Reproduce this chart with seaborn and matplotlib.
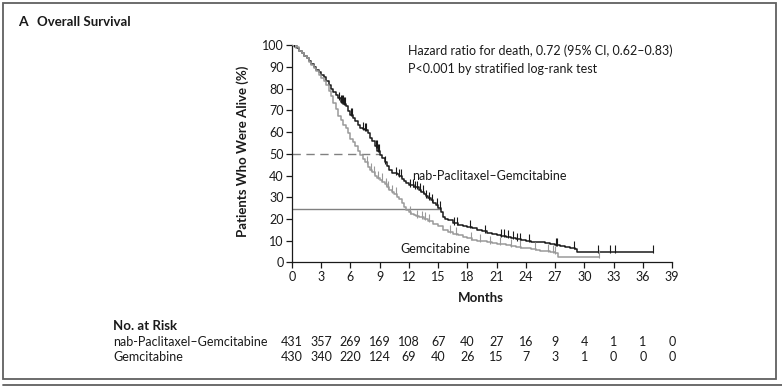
import numpy as np
import pandas as pd
import matplotlib
matplotlib.use("Agg")
import matplotlib.pyplot as plt
from matplotlib.patches import Rectangle
from matplotlib.lines import Line2D
import seaborn as sns

# ---------------- data ----------------
arms = ["nab-Paclitaxel\u2013Gemcitabine", "Gemcitabine"]

nab_time = [0, 0.25, 0.5, 0.75, 1.0, 1.25, 1.5, 1.75, 2.0, 2.25, 2.5, 2.75, 3.0, 3.25,
            3.5, 3.75, 4.0, 4.25, 4.5, 4.75, 5.0, 5.25, 5.5, 5.75, 6.0, 6.25, 6.5,
            6.75, 7.0, 7.25, 7.5, 7.75, 8.0, 8.25, 8.5, 8.75, 9.0, 9.25, 9.5, 9.75,
            10.0, 10.25, 10.75, 11.0, 11.25, 11.5, 11.75, 12.0, 12.5, 13.0, 13.25,
            13.5, 13.75, 14.0, 14.25, 14.5, 14.75, 15.0, 15.25, 15.5, 15.75, 16.0,
            16.5, 17.0, 17.5, 18.0, 18.5, 19.0, 19.5, 20.0, 20.5, 21.0, 21.5, 22.0,
            22.5, 23.0, 23.5, 24.0, 24.5, 25.0, 26.0, 26.5, 27.0, 27.5, 28.0, 28.5,
            29.0, 29.3, 37.1]
nab_surv = [100, 99.5, 98.6, 97.5, 96.5, 95.2, 94, 92.8, 91.5, 90, 88.6, 87.5, 86.5, 85.3,
            83.5, 81.8, 80, 78.7, 77, 75.5, 74, 73, 72, 69.5, 68, 66.5, 65,
            63.5, 62, 61.5, 61, 59.5, 57.5, 56, 53.5, 51.5, 49.5, 48, 46, 44.5,
            42.5, 41, 40.5, 40, 38.5, 37.5, 36.5, 35.5, 34.5, 33.5, 32.5,
            31.5, 30.5, 29.5, 28.5, 27.5, 26.5, 25, 23, 21, 20, 19.5,
            18, 17, 16.8, 16.4, 15.7, 15, 14.3, 13.7, 13.1, 12.6, 12.2, 11.8,
            11.2, 10.6, 10.3, 10, 9.5, 9.2, 8.8, 8.4, 8, 7.6, 7.2, 6.6,
            6.1, 4.9, 4.9]

gem_time = [0, 0.25, 0.5, 0.75, 1.0, 1.25, 1.5, 1.75, 2.0, 2.25, 2.5, 2.75, 3.0, 3.25,
            3.5, 3.75, 4.0, 4.25, 4.5, 4.75, 5.0, 5.25, 5.5, 5.75, 6.0, 6.25, 6.5,
            6.75, 7.0, 7.25, 7.5, 7.75, 8.0, 8.25, 8.5, 8.75, 9.0, 9.25, 9.5, 9.75,
            10.0, 10.25, 10.5, 10.75, 11.0, 11.25, 11.5, 11.75, 12.0, 12.25, 12.5,
            12.75, 13.0, 13.5, 14.0, 14.5, 15.0, 15.5, 16.0, 16.5, 17.0, 17.5, 18.0,
            18.5, 19.0, 19.5, 20.0, 20.5, 21.0, 22.0, 22.5, 23.0, 23.5, 24.0, 24.5,
            25.0, 25.5, 26.0, 26.5, 27.0, 27.3, 31.5]
gem_surv = [100, 99.5, 99, 97.5, 96.5, 95, 94, 92.5, 91, 89.5, 88, 86.5, 85, 83.5,
            81.5, 79, 76.5, 73.5, 70.5, 67.5, 65.5, 63.5, 62, 59.5, 57, 55.5, 53.5,
            51.5, 49.5, 47.5, 46, 44, 42.5, 41.5, 40, 39, 38, 37, 36, 34.5,
            33.5, 32.5, 31.5, 30, 29, 27.5, 25.5, 24.3, 23, 22.3, 21.8,
            21.2, 20.8, 20, 19.2, 17.8, 16.5, 15, 14, 13.2, 12.6, 11.8, 11,
            10.5, 10, 9.6, 9.2, 8.8, 8.4, 8, 7.6, 7.2, 6.8, 6.5, 6.1,
            5.7, 5.4, 5.2, 4.8, 4.5, 2.6, 2.6]

nab_censor = [0.2, 4.8, 5.0, 5.1, 5.2, 5.3, 5.4, 6.1, 6.2, 7.3, 7.5, 7.6, 8.6, 8.7,
              8.8, 8.9, 9.5, 10.7, 11.0, 11.2, 12.1, 12.4, 12.6, 12.8, 13.1, 13.4,
              13.8, 14.1, 14.4, 14.9, 15.2, 16.6, 16.9, 18.3, 19.8, 21.5, 21.8,
              22.2, 22.7, 23.1, 23.4, 24.3, 27.1, 27.2, 28.9, 31.4, 32.6, 33.1, 37.1]
gem_censor = [0.3, 7.7, 8.1, 8.4, 8.8, 9.2, 9.6, 9.9, 10.3, 10.7, 12.1, 12.8, 13.3,
              13.7, 14.1, 16.2, 16.8, 18.4, 19.3, 20.3, 21.3, 22.5, 23.4, 24.9,
              26.3, 26.8, 27.0, 31.5]

risk_nab = [431, 357, 269, 169, 108, 67, 40, 27, 16, 9, 4, 1, 1, 0]
risk_gem = [430, 340, 220, 124, 69, 40, 26, 15, 7, 3, 1, 0, 0, 0]
risk_months = list(range(0, 40, 3))

median_nab = 8.9
median_gem = 15.2
median_gem_level = 24.4

hr_text = ["Hazard ratio for death, 0.72 (95% CI, 0.62\u20130.83)",
           "P<0.001 by stratified log-rank test"]

# ---------------- figure ----------------
sns.set_style("ticks")
plt.rcParams["font.family"] = ["Lato", "DejaVu Sans"]
plt.rcParams["axes.linewidth"] = 0.9

W, H = 782, 386
fig = plt.figure(figsize=(W / 100, H / 100), dpi=100)
fig.patch.set_facecolor("white")

ax = fig.add_axes([292 / W, 1 - 262.3 / H, (672 - 292) / W, (262.3 - 45.3) / H])

colors = {arms[0]: "#1a1a1a", arms[1]: "#9a9a9a"}

df = pd.concat([
    pd.DataFrame({"Months": nab_time, "Surv": nab_surv, "Arm": arms[0]}),
    pd.DataFrame({"Months": gem_time, "Surv": gem_surv, "Arm": arms[1]}),
])

# reference lines
ax.plot([0, median_nab], [50, 50], color="#808080", lw=1.0, ls=(0, (6, 4)), zorder=1)
ax.plot([0, median_gem], [median_gem_level, median_gem_level], color="#808080", lw=1.0, zorder=1)

sns.lineplot(data=df, x="Months", y="Surv", hue="Arm", palette=colors,
             drawstyle="steps-post", estimator=None, sort=False, legend=False,
             linewidth=1.1, ax=ax, zorder=3)

def step_eval(tt, ss, q):
    tt = np.asarray(tt); ss = np.asarray(ss)
    idx = np.searchsorted(tt, q, side="right") - 1
    return ss[np.clip(idx, 0, len(ss) - 1)]

for times, surv, cens, arm in [(nab_time, nab_surv, nab_censor, arms[0]),
                               (gem_time, gem_surv, gem_censor, arms[1])]:
    c = np.array(cens)
    ax.plot(c, step_eval(times, surv, c) + 1.2, ls="none", marker="|",
            markersize=6, markeredgewidth=0.8, color=colors[arm], zorder=4)

ax.set_xlim(0, 39)
ax.set_ylim(0, 100)
ax.set_xticks(risk_months)
ax.set_yticks(range(0, 101, 10))
ax.tick_params(axis="both", direction="out", length=4, width=0.9, labelsize=9,
               colors="#1a1a1a", pad=2)
ax.set_xlabel("")
ax.set_ylabel("")
sns.despine(ax=ax)
ax.spines["left"].set_color("#1a1a1a")
ax.spines["bottom"].set_color("#1a1a1a")

# annotations in data coordinates
ax.text(11.9, 97.5, hr_text[0], fontsize=9, color="#1a1a1a", va="center", ha="left")
ax.text(11.9, 89.3, hr_text[1], fontsize=9, color="#1a1a1a", va="center", ha="left")
ax.text(12.3, 39.8, arms[0], fontsize=9, color="#1a1a1a", va="center", ha="left")
ax.text(11.1, 6.2, arms[1], fontsize=9, color="#1a1a1a", va="center", ha="left")

# axis titles
fig.text(243 / W, 1 - 151 / H, "Patients Who Were Alive (%)", rotation=90,
         fontsize=9.5, fontweight="bold", ha="center", va="center", color="#1a1a1a")
fig.text(481 / W, 1 - 298 / H, "Months", fontsize=9.5, fontweight="bold",
         ha="center", va="center", color="#1a1a1a")

# title
fig.text(18 / W, 1 - 22 / H, "A", fontsize=10, fontweight="bold", ha="left",
         va="center", color="#1a1a1a")
fig.text(37 / W, 1 - 22 / H, "Overall Survival", fontsize=9.5, fontweight="bold",
         ha="left", va="center", color="#1a1a1a")

# risk table
fig.text(113 / W, 1 - 326 / H, "No. at Risk", fontsize=9.5, fontweight="bold",
         ha="left", va="center", color="#1a1a1a")
trans = matplotlib.transforms.blended_transform_factory(ax.transData, fig.transFigure)
for row_y, label, vals in [(342, arms[0], risk_nab), (357, arms[1], risk_gem)]:
    fig.text(113 / W, 1 - row_y / H, label, fontsize=9, ha="left", va="center",
             color="#1a1a1a")
    for m, v in zip(risk_months, vals):
        ax.text(m, 1 - row_y / H, str(v), transform=trans, fontsize=9,
                ha="center", va="center", color="#1a1a1a", clip_on=False)

# frame
fig.add_artist(Rectangle((3 / W, 1 - 379 / H), (776 - 3) / W, (379 - 3) / H,
                         transform=fig.transFigure, fill=False, edgecolor="#606060",
                         linewidth=1.3))
fig.add_artist(Line2D([3 / W, 1.0], [1 - 385 / H, 1 - 385 / H], transform=fig.transFigure,
                      color="#606060", linewidth=1.3))

fig.savefig("out.png", dpi=100)
